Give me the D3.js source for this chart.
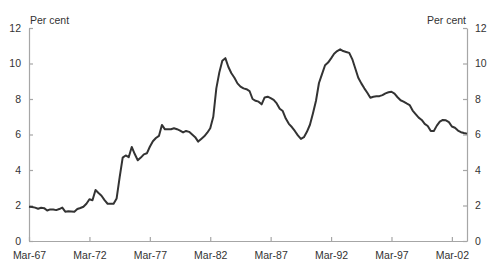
<!DOCTYPE html>
<meta charset="utf-8">
<title>Per cent</title>
<style>

body {
  margin: 0px;
  background: #fff;
}

text {
  font-family: "Liberation Sans", Arial, sans-serif;
  font-size: 10.5px;
  fill: #333;
}

.axis path, .axis line {
  stroke: #a6a6a6;
  stroke-width: 1.2px;
}

path.series {
  fill: none;
  stroke: #333;
  stroke-width: 2px;
  stroke-linejoin: round;
}

</style>

<script src="https://cdn.jsdelivr.net/npm/d3@7"></script>

<body>

<script>

var width = 498, height = 277;

// quarterly values, first quarter is Mar-67
var startYear = 1967;
var values = [
  1.93, 1.92, 1.88, 1.82,   // 1967
  1.87, 1.85, 1.72, 1.78,   // 1968
  1.77, 1.74, 1.80, 1.88,   // 1969
  1.65, 1.67, 1.66, 1.65,   // 1970
  1.80, 1.86, 1.93, 2.10,   // 1971
  2.35, 2.30, 2.87, 2.70,   // 1972
  2.55, 2.30, 2.10, 2.10,   // 1973
  2.10, 2.40, 3.60, 4.70,   // 1974
  4.82, 4.72, 5.30, 4.90,   // 1975
  4.55, 4.70, 4.88, 4.94,   // 1976
  5.31, 5.62, 5.80, 5.92,   // 1977
  6.54, 6.29, 6.30, 6.30,   // 1978
  6.35, 6.30, 6.22, 6.12,   // 1979
  6.20, 6.15, 6.00, 5.85,   // 1980
  5.60, 5.75, 5.90, 6.10,   // 1981
  6.35, 7.00, 8.60, 9.50,   // 1982
  10.15, 10.30, 9.80, 9.45, // 1983
  9.20, 8.88, 8.70, 8.60,   // 1984
  8.55, 8.45, 8.00, 7.90,   // 1985
  7.85, 7.70, 8.09, 8.13,   // 1986
  8.05, 7.95, 7.75, 7.45,   // 1987
  7.32, 6.90, 6.60, 6.42,   // 1988
  6.20, 5.95, 5.75, 5.85,   // 1989
  6.15, 6.55, 7.20, 7.90,   // 1990
  8.90, 9.40, 9.90, 10.05,  // 1991
  10.29, 10.55, 10.70, 10.80, // 1992
  10.70, 10.65, 10.60, 10.25, // 1993
  9.73, 9.20, 8.88, 8.60,   // 1994
  8.35, 8.07, 8.13, 8.15,   // 1995
  8.16, 8.22, 8.32, 8.38,   // 1996
  8.41, 8.30, 8.10, 7.93,   // 1997
  7.85, 7.75, 7.66, 7.35,   // 1998
  7.15, 6.95, 6.82, 6.60,   // 1999
  6.48, 6.20, 6.20, 6.50,   // 2000
  6.72, 6.82, 6.80, 6.70,   // 2001
  6.45, 6.38, 6.22, 6.13,   // 2002
  6.08, 6.05                // 2003
];

var tickYears = [1967, 1972, 1977, 1982, 1987, 1992, 1997, 2002];
var yTicks = [0, 2, 4, 6, 8, 10, 12];
var unitLabel = "Per cent";

var data = values.map(function(v, i) {
  return { date: new Date(startYear, 2 + 3 * i, 1), value: v };
});

var plotLeft = 29, plotRight = 467, plotTop = 28, plotBottom = 241;

var x = d3.scaleTime()
    .domain([data[0].date, data[data.length - 1].date])
    .range([plotLeft, plotRight]);

var y = d3.scaleLinear()
    .domain([0, 12])
    .range([plotBottom, plotTop]);

var svg = d3.select("body").append("svg")
    .attr("width", width)
    .attr("height", height);

// axes, ticks point inwards
svg.append("g")
    .attr("class", "axis")
    .attr("transform", "translate(0," + plotBottom + ")")
    .call(d3.axisBottom(x)
      .tickValues(tickYears.map(function(yr) { return new Date(yr, 2, 1); }))
      .tickFormat(d3.timeFormat("%b-%y"))
      .tickSizeInner(-4)
      .tickSizeOuter(0)
      .tickPadding(11));

svg.append("g")
    .attr("class", "axis")
    .attr("transform", "translate(" + plotLeft + ",0)")
    .call(d3.axisLeft(y)
      .tickValues(yTicks)
      .tickSizeInner(-4)
      .tickSizeOuter(0)
      .tickPadding(8));

svg.append("g")
    .attr("class", "axis")
    .attr("transform", "translate(" + plotRight + ",0)")
    .call(d3.axisRight(y)
      .tickValues(yTicks)
      .tickSizeInner(-4)
      .tickSizeOuter(0)
      .tickPadding(8));

svg.selectAll(".axis .domain").attr("stroke", "#a6a6a6");
svg.selectAll(".axis text").attr("fill", "#333").style("font-size", "10.5px");

svg.append("text")
    .attr("x", plotLeft + 1)
    .attr("y", 24)
    .text(unitLabel);

svg.append("text")
    .attr("x", plotRight - 1)
    .attr("y", 24)
    .attr("text-anchor", "end")
    .text(unitLabel);

var line = d3.line()
    .x(function(d) { return x(d.date); })
    .y(function(d) { return y(d.value); });

svg.append("path")
    .datum(data)
    .attr("class", "series")
    .attr("d", line);

</script>
